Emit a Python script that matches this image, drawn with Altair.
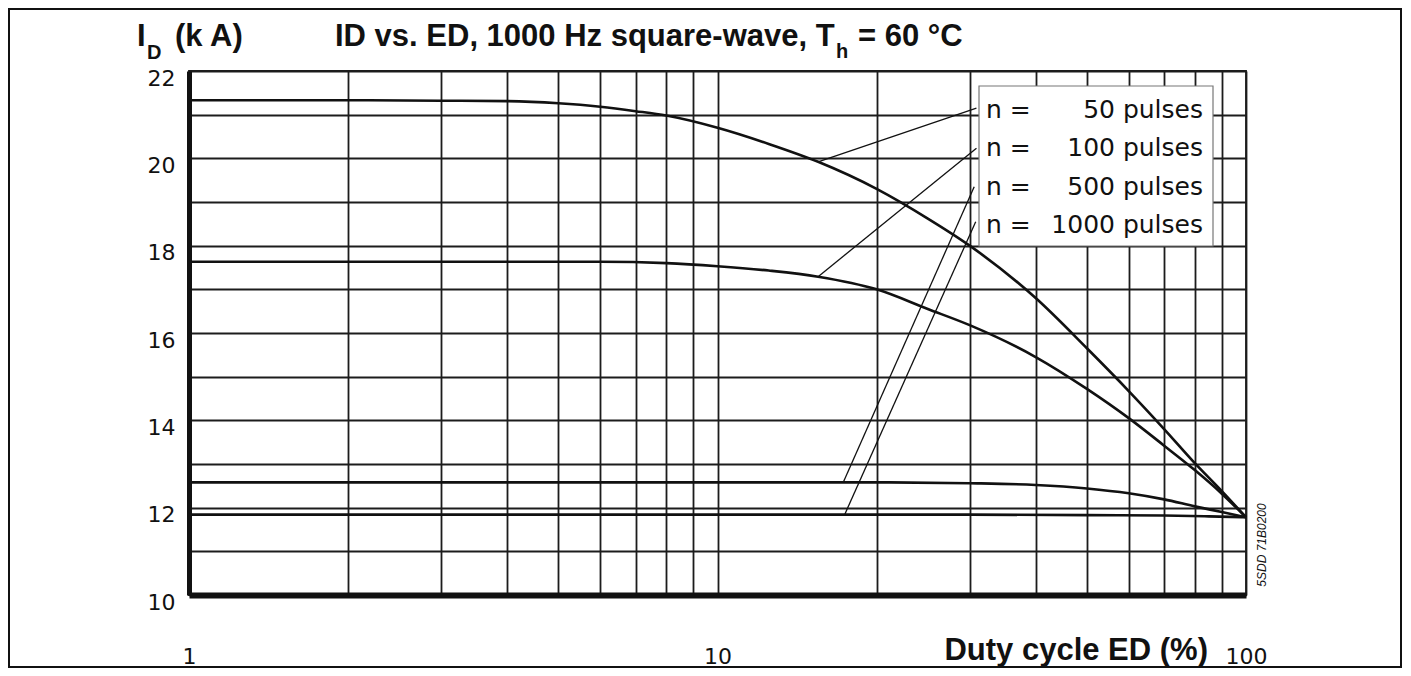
import altair as alt
import pandas as pd

# ---------------- data ----------------
ed_n50 = [1, 2, 3, 4, 5, 6, 7, 8, 10, 12.5, 15.5, 20, 25, 30, 40, 50, 60, 70, 80, 90, 100]
id_n50 = [21.33, 21.33, 21.32, 21.31, 21.26, 21.18, 21.08, 20.98, 20.70, 20.33, 19.92, 19.30, 18.62, 18.00,
          16.80, 15.65, 14.67, 13.80, 13.02, 12.38, 11.78]
ed_n100 = [1, 3, 6, 8, 10, 12.5, 15.5, 20, 25, 30, 40, 50, 60, 70, 80, 90, 100]
id_n100 = [17.63, 17.63, 17.63, 17.60, 17.53, 17.43, 17.29, 17.00, 16.55, 16.18, 15.45, 14.72, 14.05,
           13.42, 12.86, 12.32, 11.78]
ed_n500 = [1, 20, 30, 40, 50, 60, 70, 80, 90, 100]
id_n500 = [12.58, 12.58, 12.56, 12.52, 12.44, 12.33, 12.19, 12.03, 11.90, 11.78]
ed_n1000 = [1, 30, 50, 70, 85, 100]
id_n1000 = [11.84, 11.84, 11.83, 11.82, 11.80, 11.78]

pulse_counts = [50, 100, 500, 1000]

# leader lines (label box -> curve), in data units
leader_ed_from = [30.9, 30.9, 30.6, 30.8]
leader_id_from = [21.15, 20.23, 19.35, 18.55]
leader_ed_to = [15.5, 15.5, 17.3, 17.4]
leader_id_to = [19.92, 17.29, 12.58, 11.84]

x_grid = [1, 2, 3, 4, 5, 6, 7, 8, 9, 10, 20, 30, 40, 50, 60, 70, 80, 90, 100]
x_labelled = [1, 10, 100]
y_grid = list(range(10, 23))
y_labelled = list(range(10, 23, 2))

# ---------------- tables ----------------
rows = []
for n, eds, ids in zip(pulse_counts, [ed_n50, ed_n100, ed_n500, ed_n1000],
                       [id_n50, id_n100, id_n500, id_n1000]):
    for e, i in zip(eds, ids):
        rows.append({"n": n, "ED": e, "ID": i})
curves_df = pd.DataFrame(rows)

leaders_df = pd.DataFrame({"n": pulse_counts, "ED": leader_ed_from, "ID": leader_id_from,
                           "ED_end": leader_ed_to, "ID_end": leader_id_to})

W, H = 1057, 524
INK = "#111111"

x_scale = alt.Scale(type="log", domain=[1, 100], nice=False)
y_scale = alt.Scale(domain=[10, 22], nice=False, zero=False)

x_label_test = " || ".join(f"datum.value == {v}" for v in x_labelled)
y_label_test = " || ".join(f"datum.value == {v}" for v in y_labelled)

x_axis = alt.Axis(values=x_grid, format="d", labelExpr=f"({x_label_test}) ? datum.label : ''",
                  title=None, grid=True, gridColor="#1c1c1c", gridWidth=1.8, gridOpacity=1,
                  ticks=False, tickSize=0, labelPadding=68, labelBaseline="alphabetic",
                  labelFlush=False, labelOverlap=False, labelFont="DejaVu Sans",
                  labelFontSize=22, labelColor=INK, domainColor=INK, domainWidth=6)
y_axis = alt.Axis(values=y_grid, format="d", labelExpr=f"({y_label_test}) ? datum.label : ''",
                  title=None, grid=True, gridColor="#1c1c1c", gridWidth=1.8, gridOpacity=1,
                  ticks=False, tickSize=0, labelPadding=14, labelOffset=7, labelFlush=False,
                  labelOverlap=False, labelFont="DejaVu Sans", labelFontSize=22,
                  labelColor=INK, domainColor=INK, domainWidth=5)

curves = alt.Chart(curves_df).mark_line(color=INK, strokeWidth=2.6, interpolate="monotone").encode(
    x=alt.X("ED:Q", scale=x_scale, axis=x_axis),
    y=alt.Y("ID:Q", scale=y_scale, axis=y_axis),
    detail="n:N",
)

leaders = alt.Chart(leaders_df).mark_rule(color=INK, strokeWidth=1.3).encode(
    x=alt.X("ED:Q", scale=x_scale, axis=x_axis),
    x2="ED_end:Q",
    y=alt.Y("ID:Q", scale=y_scale, axis=y_axis),
    y2="ID_end:Q",
)


def text(t, x, y, size, bold=False, align="left", baseline="alphabetic",
         font="Liberation Sans", angle=0, italic=False):
    kw = dict(align=align, baseline=baseline, fontSize=size, font=font, color=INK,
              fontWeight="bold" if bold else "normal", fontStyle="italic" if italic else "normal")
    if angle:
        kw["angle"] = angle
    return alt.Chart(alt.Data(values=[{"t": t}])).mark_text(**kw).encode(
        x=alt.value(x), y=alt.value(y), text="t:N")


# legend box
box = alt.Chart(alt.Data(values=[{}])).mark_rect(fill="white", stroke="#777777", strokeWidth=1.2).encode(
    x=alt.value(790), x2=alt.value(1024), y=alt.value(15), y2=alt.value(175))

legend_layers = []
for k, n in enumerate(pulse_counts):
    yy = [39, 77, 116, 154][k]
    legend_layers.append(text("n =", 797, yy, 25, font="DejaVu Sans", baseline="middle"))
    legend_layers.append(text(f"{n} pulses", 1014, yy, 25, font="DejaVu Sans", baseline="middle", align="right"))

frame = alt.Chart(alt.Data(values=[{}])).mark_rect(fill="transparent", stroke=INK, strokeWidth=2).encode(
    x=alt.value(-180), x2=alt.value(1212), y=alt.value(-62), y2=alt.value(596))

annotations = [
    text("I", -52, -25, 31, bold=True),
    text("D", -42, -12, 20, bold=True),
    text("(k A)", -14, -25, 31, bold=True),
    text("ID vs. ED, 1000 Hz square-wave, T", 146, -25, 31, bold=True),
    text("h", 647, -13, 20, bold=True),
    text("= 60 °C", 669, -25, 31, bold=True),
    text("Duty cycle ED (%)", 1019, 589, 31, bold=True, align="right"),
    text("5SDD 71B0200", 1073, 474, 12, italic=True, align="center", baseline="middle", angle=270),
]

chart = alt.layer(curves, leaders, box, *legend_layers, frame, *annotations).properties(
    width=W, height=H,
    autosize=alt.AutoSizeParams(type="none"),
    padding={"left": 181, "top": 63, "right": 156, "bottom": 73},
    background="white",
).configure_view(stroke="#1c1c1c", strokeWidth=1.8)

chart.save("out.html", embed_options={"renderer": "svg", "actions": False})
